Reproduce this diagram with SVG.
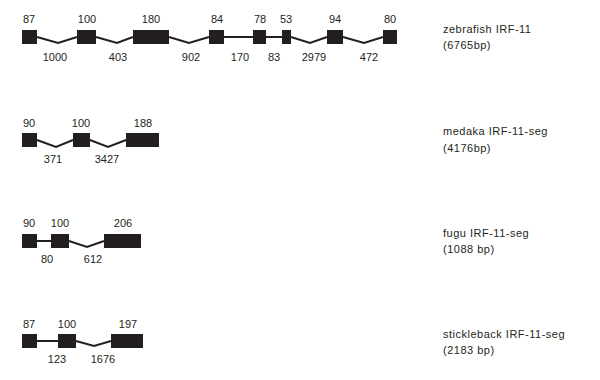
<svg xmlns="http://www.w3.org/2000/svg" width="600" height="380" viewBox="0 0 600 380">
<style>
text{font-family:"Liberation Sans",Arial,sans-serif;font-size:11px;fill:#231f20}
.n{text-anchor:middle}
.t{letter-spacing:0.5px}
.ex{fill:#231f20}
.in{fill:none;stroke:#231f20;stroke-width:2;stroke-linejoin:miter}
</style>
<rect width="600" height="380" fill="#fff"/>
<g id="connectors">
<polyline class="in" points="37,37 58,43 77,37"/>
<polyline class="in" points="96,37 117,43 133,37"/>
<polyline class="in" points="169,37 189,43 209,37"/>
<polyline class="in" points="224,37 253,37"/>
<polyline class="in" points="266,37 282,37"/>
<polyline class="in" points="291,37 310,43 327,37"/>
<polyline class="in" points="343,37 364,43 383,37"/>
<polyline class="in" points="37,140 56,147 73,140"/>
<polyline class="in" points="90,140 108,147 126,140"/>
<polyline class="in" points="37,241 51,241"/>
<polyline class="in" points="69,241 87,247 104,241"/>
<polyline class="in" points="37,341 58,341"/>
<polyline class="in" points="76,341 94,346 111,341"/>
</g>
<g id="zebrafish">
<rect class="ex" x="22" y="30" width="15" height="14"/>
<rect class="ex" x="77" y="30" width="19" height="14"/>
<rect class="ex" x="133" y="30" width="36" height="14"/>
<rect class="ex" x="209" y="30" width="15" height="14"/>
<rect class="ex" x="253" y="30" width="13" height="14"/>
<rect class="ex" x="282" y="30" width="9" height="14"/>
<rect class="ex" x="327" y="30" width="16" height="14"/>
<rect class="ex" x="383" y="30" width="14" height="14"/>
<text class="n" x="29" y="23">87</text>
<text class="n" x="87" y="23">100</text>
<text class="n" x="151" y="23">180</text>
<text class="n" x="217" y="23">84</text>
<text class="n" x="260" y="23">78</text>
<text class="n" x="286" y="23">53</text>
<text class="n" x="335" y="23">94</text>
<text class="n" x="390" y="23">80</text>
<text class="n" x="55" y="61">1000</text>
<text class="n" x="118" y="61">403</text>
<text class="n" x="191" y="61">902</text>
<text class="n" x="240" y="61">170</text>
<text class="n" x="274" y="61">83</text>
<text class="n" x="314" y="61">2979</text>
<text class="n" x="369" y="61">472</text>
<text class="t" x="443" y="33">zebrafish IRF-11</text>
<text class="t" x="443" y="49">(6765bp)</text>
</g>
<g id="medaka">
<rect class="ex" x="22" y="133" width="15" height="14"/>
<rect class="ex" x="73" y="133" width="17" height="14"/>
<rect class="ex" x="126" y="133" width="33" height="14"/>
<text class="n" x="29" y="127">90</text>
<text class="n" x="81" y="127">100</text>
<text class="n" x="143" y="127">188</text>
<text class="n" x="53" y="163">371</text>
<text class="n" x="107" y="163">3427</text>
<text class="t" x="443" y="135">medaka IRF-11-seg</text>
<text class="t" x="443" y="152">(4176bp)</text>
</g>
<g id="fugu">
<rect class="ex" x="22" y="234" width="15" height="14"/>
<rect class="ex" x="51" y="234" width="18" height="14"/>
<rect class="ex" x="104" y="234" width="37" height="14"/>
<text class="n" x="29" y="227">90</text>
<text class="n" x="60" y="227">100</text>
<text class="n" x="123" y="227">206</text>
<text class="n" x="47" y="263">80</text>
<text class="n" x="93" y="263">612</text>
<text class="t" x="443" y="237">fugu IRF-11-seg</text>
<text class="t" x="443" y="253">(1088 bp)</text>
</g>
<g id="stickleback">
<rect class="ex" x="22" y="334" width="15" height="14"/>
<rect class="ex" x="58" y="334" width="18" height="14"/>
<rect class="ex" x="111" y="334" width="32" height="14"/>
<text class="n" x="29" y="328">87</text>
<text class="n" x="67" y="328">100</text>
<text class="n" x="128" y="328">197</text>
<text class="n" x="57" y="363">123</text>
<text class="n" x="103" y="363">1676</text>
<text class="t" x="443" y="338">stickleback IRF-11-seg</text>
<text class="t" x="443" y="354">(2183 bp)</text>
</g>
</svg>
